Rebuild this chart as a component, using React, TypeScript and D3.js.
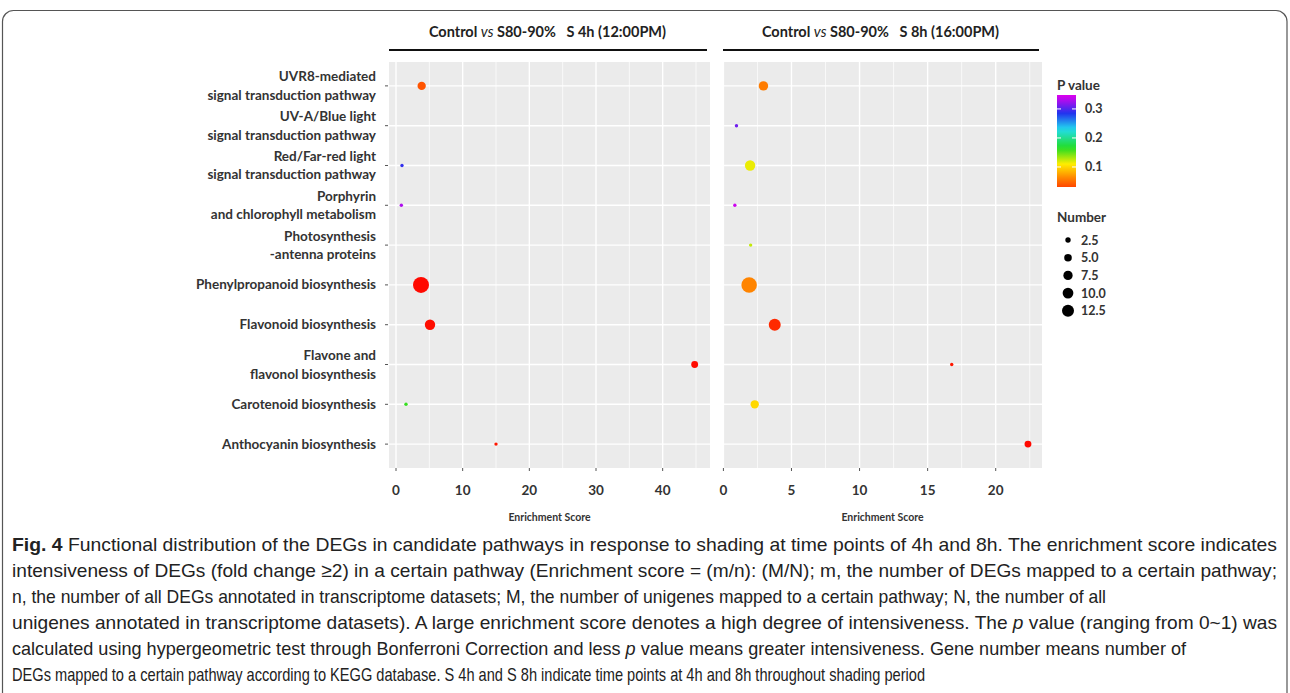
import React, { useEffect } from 'react';
import * as d3 from 'd3';

// ---------------- data ----------------
const categories = [
  'UVR8-mediated\nsignal transduction pathway',
  'UV-A/Blue light\nsignal transduction pathway',
  'Red/Far-red light\nsignal transduction pathway',
  'Porphyrin\nand chlorophyll metabolism',
  'Photosynthesis\n-antenna proteins',
  'Phenylpropanoid biosynthesis',
  'Flavonoid biosynthesis',
  'Flavone and\nflavonol biosynthesis',
  'Carotenoid biosynthesis',
  'Anthocyanin biosynthesis',
];

// S 4h (12:00PM)
const score4h = [3.85, null, 0.9, 0.8, null, 3.75, 5.1, 44.8, 1.5, 15.0];
const number4h = [3, null, 1, 1, null, 14, 5, 2, 1, 1];
const pvalue4h = [0.038, null, 0.29, 0.33, null, 0.004, 0.006, 0.005, 0.16, 0.01];

// S 8h (16:00PM)
const score8h = [2.94, 0.96, 1.96, 0.84, 2.0, 1.89, 3.77, 16.77, 2.3, 22.37];
const number8h = [4, 1, 5, 1, 1, 13, 7, 1, 3, 2];
const pvalue8h = [0.058, 0.31, 0.115, 0.34, 0.125, 0.062, 0.018, 0.01, 0.1, 0.004];

const xTicks4h = [0, 10, 20, 30, 40];
const xTicks8h = [0, 5, 10, 15, 20];
const pLegendTicks = [0.1, 0.2, 0.3];
const numberLegendTicks = [2.5, 5.0, 7.5, 10.0, 12.5];

const pStops = [0, 0.03, 0.06, 0.11, 0.165, 0.23, 0.285, 0.345];
const pColors = ['#ff0000', '#ff4400', '#ff8000', '#ffee00', '#22dd22', '#22ddee', '#2233ee', '#dd00ee'];

const titles = ['S 4h (12:00PM)', 'S 8h (16:00PM)'];

const captionLines = [
  [{ t: 'Fig. 4', b: true }, { t: ' Functional distribution of the DEGs in candidate pathways in response to shading at time points of 4h and 8h. The enrichment score indicates' }],
  [{ t: 'intensiveness of DEGs (fold change \u22652) in a certain pathway (Enrichment score = (m/n): (M/N); m, the number of DEGs mapped to a certain pathway;' }],
  [{ t: 'n, the number of all DEGs annotated in transcriptome datasets; M, the number of unigenes mapped to a certain pathway; N, the number of all' }],
  [{ t: 'unigenes annotated in transcriptome datasets). A large enrichment score denotes a high degree of intensiveness. The ' }, { t: 'p', i: true }, { t: ' value (ranging from 0~1) was' }],
  [{ t: 'calculated using hypergeometric test through Bonferroni Correction and less ' }, { t: 'p', i: true }, { t: ' value means greater intensiveness. Gene number means number of' }],
  [{ t: 'DEGs mapped to a certain pathway according to KEGG database. S 4h and S 8h indicate time points at 4h and 8h throughout shading period' }],
];
const captionWidths = [1265, 1265, 1094, 1265, 1174, 913];

// ---------------- layout ----------------
const W = 1290;
const H = 693;
const PT = 62;
const PB = 468;
const FONT = 'Lato, "Open Sans", sans-serif';
const TXT = '#333333';

const yScale = d3.scalePoint<string>().domain(categories).range([PT, PB]).padding(0.6);
const colorScale = d3.scaleLinear<string>().domain(pStops).range(pColors).clamp(true);
const rUnit = d3.scaleLinear().domain([0, 1]).range([1.7, 8]);
const rScale = (n: number) => rUnit(Math.sqrt((n - 1) / 13));
const rLegend = d3.scaleSqrt().domain([0, 12.5]).range([0, 6]);

const panels = [
  { title: titles[0], x0: 389, x1: 710, domain: [-1.05, 47.1], ticks: xTicks4h, score: score4h, number: number4h, p: pvalue4h },
  { title: titles[1], x0: 723, x1: 1042, domain: [-0.03, 23.4], ticks: xTicks8h, score: score8h, number: number8h, p: pvalue8h },
];

function Panel({ cfg }: { cfg: any }) {
  const x = d3.scaleLinear().domain(cfg.domain).range([cfg.x0, cfg.x1]);
  const step = cfg.ticks[1] - cfg.ticks[0];
  const minor = [cfg.ticks[0] - step / 2, ...cfg.ticks.map((t: number) => t + step / 2)].filter(
    (v) => v >= cfg.domain[0] && v <= cfg.domain[1]
  );
  const cx = (cfg.x0 + cfg.x1) / 2;
  const pts = categories
    .map((c, i) => ({ c, s: cfg.score[i], n: cfg.number[i], p: cfg.p[i] }))
    .filter((d) => d.s != null)
    .sort((a, b) => b.n - a.n);
  return (
    <g>
      {/* strip title */}
      <text x={cx - 2} y={37} textAnchor="middle" fontFamily={FONT} fontWeight={700} fontSize={14.5} fill="#222">
        Control <tspan fontStyle="italic" fontWeight={400}>vs</tspan> S80-90%{'\u00a0\u00a0\u00a0'}{cfg.title}
      </text>
      <line x1={cfg.x0} x2={cfg.x1 - 3} y1={50} y2={50} stroke="#111" strokeWidth={2} />
      <rect x={cfg.x0} y={PT} width={cfg.x1 - cfg.x0} height={PB - PT} fill="#ebebeb" />
      {minor.map((v: number) => (
        <line key={'mn' + v} x1={x(v)} x2={x(v)} y1={PT} y2={PB} stroke="#ffffff" strokeWidth={0.7} />
      ))}
      {cfg.ticks.map((v: number) => (
        <line key={'mj' + v} x1={x(v)} x2={x(v)} y1={PT} y2={PB} stroke="#ffffff" strokeWidth={1.4} />
      ))}
      {categories.map((c) => (
        <line key={'h' + c} x1={cfg.x0} x2={cfg.x1} y1={yScale(c)} y2={yScale(c)} stroke="#ffffff" strokeWidth={1.4} />
      ))}
      {pts.map((d) => (
        <circle key={'p' + d.c} cx={x(d.s)} cy={yScale(d.c)} r={rScale(d.n)} fill={colorScale(d.p)} />
      ))}
      {cfg.ticks.map((v: number) => (
        <g key={'t' + v}>
          <line x1={x(v)} x2={x(v)} y1={PB} y2={PB + 3} stroke="#555" strokeWidth={1} />
          <text x={x(v)} y={495} textAnchor="middle" fontFamily={FONT} fontWeight={700} fontSize={13.5} fill={TXT}>
            {v}
          </text>
        </g>
      ))}
      <text x={cx} y={521} textAnchor="middle" fontFamily={FONT} fontWeight={700} fontSize={10.5} fill={TXT}>
        Enrichment Score
      </text>
    </g>
  );
}

export default function App() {
  useEffect(() => {
    document.body.style.margin = '0';
  }, []);
  const barTop = 95;
  const barBot = 187;
  const pBar = d3.scaleLinear().domain([0.348, 0.031]).range([barTop, barBot]);
  const gradStops = d3.range(0, 21).map((i) => {
    const v = 0.348 - (i / 20) * (0.348 - 0.031);
    return { off: (i / 20) * 100, col: colorScale(v) };
  });
  return (
    <svg width={W} height={H} style={{ position: 'absolute', left: 0, top: 0, background: '#fff' }}>
      <defs>
        <linearGradient id="pgrad" x1="0" y1="0" x2="0" y2="1">
          {gradStops.map((s) => (
            <stop key={s.off} offset={s.off + '%'} stopColor={s.col} />
          ))}
        </linearGradient>
      </defs>
      <rect x={2.5} y={10.5} width={1284.5} height={720} rx={11} fill="none" stroke="#555" strokeWidth={1.2} />

      {/* y labels */}
      {categories.map((c) => {
        const lines = c.split('\n');
        const y0 = yScale(c) as number;
        return (
          <g key={'yl' + c}>
            <line x1={385} x2={388} y1={y0} y2={y0} stroke="#555" strokeWidth={1} />
            {lines.map((l, j) => (
              <text
                key={j}
                x={376}
                y={y0 + (lines.length === 1 ? 4.5 : j === 0 ? -4.5 : 14)}
                textAnchor="end"
                fontFamily={FONT}
                fontWeight={700}
                fontSize={13.5}
                fill={TXT}
              >
                {l}
              </text>
            ))}
          </g>
        );
      })}

      {panels.map((p, i) => (
        <Panel key={i} cfg={p} />
      ))}

      {/* P value legend */}
      <text x={1057} y={90} fontFamily={FONT} fontWeight={700} fontSize={13.5} fill={TXT}>
        P value
      </text>
      <rect x={1057} y={barTop} width={19} height={barBot - barTop} fill="url(#pgrad)" />
      {pLegendTicks.map((v) => (
        <g key={'pl' + v}>
          <line x1={1057} x2={1061} y1={pBar(v)} y2={pBar(v)} stroke="#fff" strokeWidth={1} />
          <line x1={1072} x2={1076} y1={pBar(v)} y2={pBar(v)} stroke="#fff" strokeWidth={1} />
          <text x={1085} y={pBar(v) + 4.5} fontFamily={FONT} fontWeight={700} fontSize={12.5} fill={TXT}>
            {v.toFixed(1)}
          </text>
        </g>
      ))}

      {/* Number legend */}
      <text x={1057} y={222} fontFamily={FONT} fontWeight={700} fontSize={13.5} fill={TXT}>
        Number
      </text>
      {numberLegendTicks.map((v, i) => {
        const y = 240 + i * 17.7;
        return (
          <g key={'nl' + v}>
            <circle cx={1068} cy={y} r={rLegend(v)} fill="#000" />
            <text x={1081} y={y + 4.5} fontFamily={FONT} fontWeight={700} fontSize={12.5} fill={TXT}>
              {v.toFixed(1)}
            </text>
          </g>
        );
      })}

      {/* caption */}
      {captionLines.map((parts, i) => (
        <text
          key={'cap' + i}
          x={12}
          y={551 + i * 26}
          fontFamily={'"Liberation Sans", Arial, sans-serif'}
          fontSize={19}
          fill="#222"
          textLength={captionWidths[i]}
          lengthAdjust="spacingAndGlyphs"
        >
          {parts.map((p: any, j: number) => (
            <tspan key={j} fontWeight={p.b ? 700 : 400} fontStyle={p.i ? 'italic' : 'normal'}>
              {p.t}
            </tspan>
          ))}
        </text>
      ))}
    </svg>
  );
}
